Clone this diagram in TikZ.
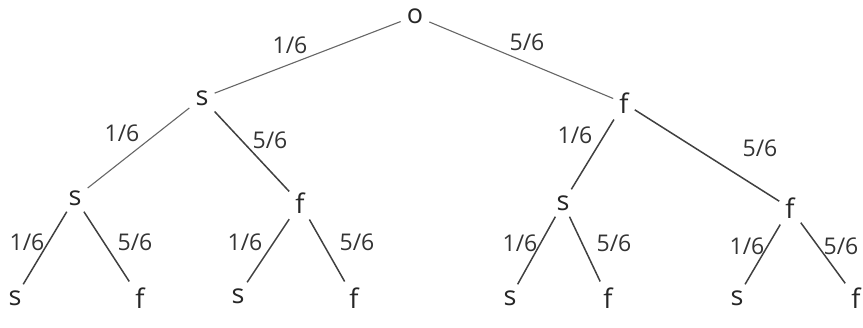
\documentclass[tikz,border=0pt]{standalone}
\usepackage{fontspec}
\setmainfont{Open Sans}
\begin{document}
\begin{tikzpicture}[x=1pt,y=-1pt,
  lbl/.style={font=\fontsize{23}{25}\selectfont, text=black!80, inner sep=0pt},
  st/.style={font=\fontsize{27}{29}\selectfont, text=black!85, inner sep=6pt},
  edge/.style={draw=black!75, line width=1.5pt},
  ledge/.style={draw=black!60, line width=1.1pt}]
\useasboundingbox (0,0) rectangle (863,327);
% nodes
\node[st] (o) at (415,16) {o};
\node[st] (a) at (202,98) {s};
\node[st] (b) at (624,103) {f};
\node[st] (aa) at (75,198) {s};
\node[st] (ab) at (300,203) {f};
\node[st] (ba) at (563,203) {s};
\node[st] (bb) at (790,208) {f};
\node[st] (aaa) at (15,298) {s};
\node[st] (aab) at (140,298) {f};
\node[st] (aba) at (238,296) {s};
\node[st] (abb) at (354,298) {f};
\node[st] (baa) at (510,298) {s};
\node[st] (bab) at (608,298) {f};
\node[st] (bba) at (737,298) {s};
\node[st] (bbb) at (856,298) {f};
% edges
\draw[ledge] (o) -- (a);
\draw[ledge] (o) -- (b);
\draw[ledge] (a) -- (aa);
\draw[edge] (a) -- (ab);
\draw[edge] (b) -- (ba);
\draw[edge] (b) -- (bb);
\draw[edge] (aa) -- (aaa);
\draw[edge] (aa) -- (aab);
\draw[edge] (ab) -- (aba);
\draw[edge] (ab) -- (abb);
\draw[edge] (ba) -- (baa);
\draw[edge] (ba) -- (bab);
\draw[edge] (bb) -- (bba);
\draw[edge] (bb) -- (bbb);
% labels
\node[lbl] (l1) at (290,45) {1/6};
\node[lbl] (l2) at (527,42) {5/6};
\node[lbl] (l3) at (122,133) {1/6};
\node[lbl] (l4) at (270,140) {5/6};
\node[lbl] (l5) at (575,135) {1/6};
\node[lbl] (l6) at (760,148) {5/6};
\node[lbl] (l7) at (27,242) {1/6};
\node[lbl] (l8) at (135,242) {5/6};
\node[lbl] (l9) at (245,242) {1/6};
\node[lbl] (l10) at (357,242) {5/6};
\node[lbl] (l11) at (520,243) {1/6};
\node[lbl] (l12) at (614,243) {5/6};
\node[lbl] (l13) at (747,246) {1/6};
\node[lbl] (l14) at (841,246) {5/6};
\end{tikzpicture}
\end{document}
